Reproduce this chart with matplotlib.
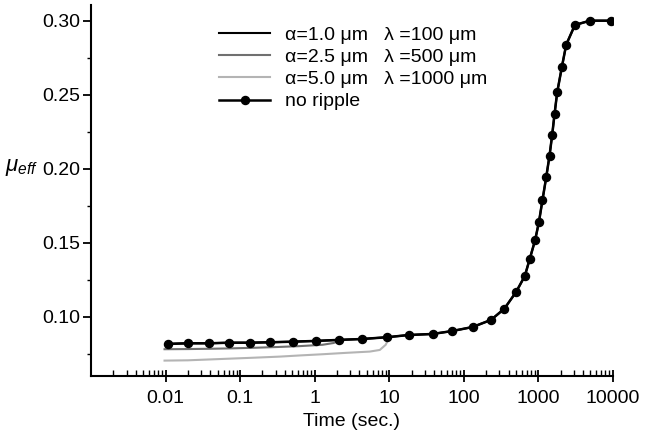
import matplotlib
matplotlib.use("Agg")
import matplotlib.pyplot as plt
from matplotlib.ticker import FixedLocator, NullFormatter, LogLocator

plt.rcParams['font.family'] = ['Liberation Sans', 'DejaVu Sans']
plt.rcParams['mathtext.fontset'] = 'custom'
plt.rcParams['mathtext.it'] = 'Liberation Sans:italic'
plt.rcParams['mathtext.rm'] = 'Liberation Sans'

# no ripple (alpha=1.0 coincides with it)
t_nr = [0.0107, 0.020, 0.038, 0.072, 0.135, 0.255, 0.514, 1.03, 2.13, 4.31, 9.42,
        18.3, 38.4, 70.5, 132, 233, 352, 506, 662, 773, 911, 1026, 1143, 1282,
        1420, 1543, 1657, 1800, 2083, 2378, 3113, 4951, 9376]
mu_nr = [0.0816, 0.0820, 0.0820, 0.0824, 0.0824, 0.0827, 0.0831, 0.0836, 0.0843,
         0.0849, 0.0861, 0.0876, 0.0883, 0.0903, 0.0930, 0.0978, 0.1054, 0.1167,
         0.1275, 0.1392, 0.1518, 0.1642, 0.1789, 0.1942, 0.2088, 0.2230, 0.2368,
         0.2516, 0.2689, 0.2838, 0.2971, 0.3000, 0.3000]

t_a25 = [0.0097, 0.02, 0.04, 0.08, 0.16, 0.32, 0.64, 1.28, 1.8, 2.2]
mu_a25 = [0.0780, 0.0781, 0.0783, 0.0786, 0.0790, 0.0795, 0.0801, 0.0810, 0.0822, 0.0840]

t_a50 = [0.0097, 0.02, 0.04, 0.08, 0.16, 0.34, 0.64, 1.28, 2.56, 5.5, 7.5, 9.0, 10.0]
mu_a50 = [0.0703, 0.0705, 0.0711, 0.0717, 0.0723, 0.0730, 0.0738, 0.0746, 0.0755,
          0.0764, 0.0775, 0.0810, 0.0858]

labels = ['α=1.0 μm   λ =100 μm',
          'α=2.5 μm   λ =500 μm',
          'α=5.0 μm   λ =1000 μm',
          'no ripple']

xticks = [0.01, 0.1, 1, 10, 100, 1000, 10000]
xticklabels = ['0.01', '0.1', '1', '10', '100', '1000', '10000']
yticks = [0.10, 0.15, 0.20, 0.25, 0.30]
yticklabels = ['0.10', '0.15', '0.20', '0.25', '0.30']

fig = plt.figure(figsize=(6.52, 4.37), dpi=100)
ax = fig.add_axes([91/652, 1-375.7/437, (612.7-91)/652, (375.7-5)/437])

l3, = ax.plot(t_a50, mu_a50, color='#b4b4b4', lw=1.5)
l2, = ax.plot(t_a25, mu_a25, color='#707070', lw=1.5)
l1, = ax.plot(t_nr, mu_nr, color='black', lw=1.5)
l4, = ax.plot(t_nr, mu_nr, color='black', lw=1.8, marker='o', ms=5.8)

ax.set_xscale('log')
ax.set_xlim(0.001, 10000)
ax.set_ylim(0.0601, 0.3106)
ax.set_xticks(xticks)
ax.set_xticklabels(xticklabels)
ax.xaxis.set_minor_locator(LogLocator(base=10, subs=range(2, 10), numticks=20))
ax.xaxis.set_minor_formatter(NullFormatter())
ax.set_yticks(yticks)
ax.set_yticklabels(yticklabels)
ax.yaxis.set_minor_locator(FixedLocator([0.075, 0.125, 0.175, 0.225, 0.275]))

for s in ['top', 'right']:
    ax.spines[s].set_visible(False)
for s in ['left', 'bottom']:
    ax.spines[s].set_linewidth(1.5)

ax.tick_params(axis='x', which='major', direction='inout', length=9, width=1.3, labelsize=14, pad=6)
ax.tick_params(axis='x', which='minor', direction='in', length=4, width=1.0)
ax.tick_params(axis='y', which='major', direction='out', length=6, width=1.3, labelsize=14, pad=2)
ax.tick_params(axis='y', which='minor', direction='out', length=3, width=1.0)

ax.set_xlabel('Time (sec.)', fontsize=14, labelpad=4)
fig.text(5/652, 1-168/437, r'$\mu_{eff}$', fontsize=16, va='center', ha='left')

ax.legend([l1, l2, l3, l4], labels, loc='upper left', bbox_to_anchor=(0.231, 0.963),
          frameon=False, fontsize=14, handlelength=2.6, handletextpad=0.8,
          labelspacing=0.23, borderaxespad=0)

fig.savefig('out.png', dpi=100)
